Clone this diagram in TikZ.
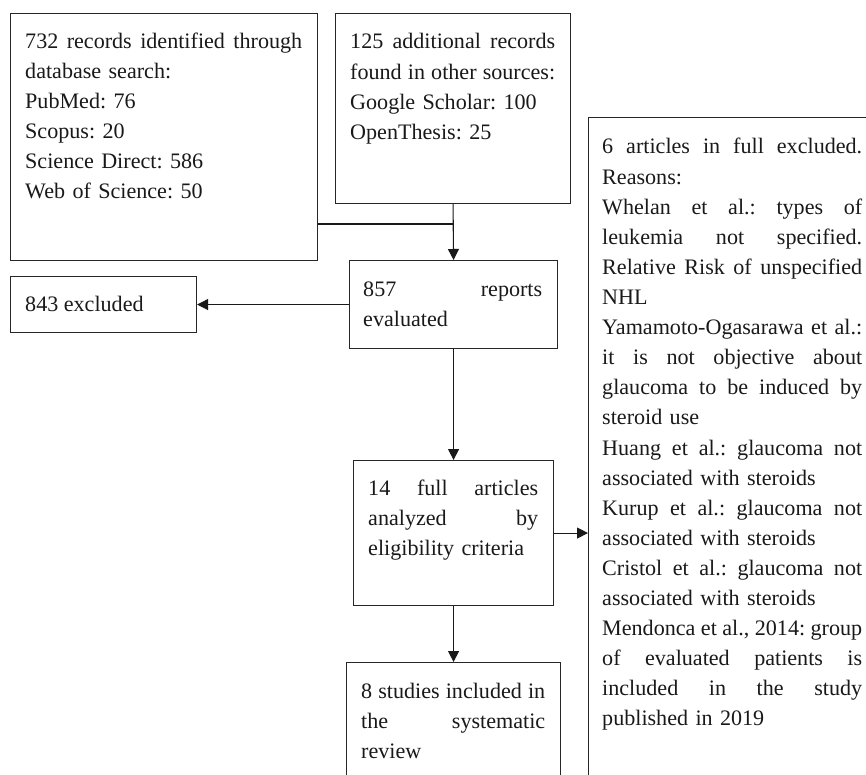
\documentclass[tikz,border=0pt]{standalone}
\usepackage{fontspec}
\setmainfont{Liberation Serif}
\usetikzlibrary{arrows.meta}
\newcommand{\Hf}{\hfill\ignorespaces}
\begin{document}
\begin{tikzpicture}[x=1pt,y=-1pt,
  box/.style={draw=black!85, line width=1.1pt, inner sep=0pt, anchor=north west, rectangle},
  txt/.style={anchor=base west, inner sep=0pt, font=\fontsize{22.1}{30.1}\selectfont\frenchspacing, text=black!90},
  conn/.style={line width=1.1pt, draw=black!90},
  arr/.style={conn, -{Triangle[length=11pt,width=11pt]}}]
\useasboundingbox (0,0) rectangle (866,775);
\clip (0,0) rectangle (866,775);
% boxes
\node[box, minimum width=307pt, minimum height=247pt] (A) at (10,13) {};
\node[box, minimum width=235pt, minimum height=190pt] (B) at (335,13) {};
\node[box, minimum width=208pt, minimum height=88pt] (C) at (349,260) {};
\node[box, minimum width=186pt, minimum height=56pt] (D) at (10,276) {};
\node[box, minimum width=200pt, minimum height=145pt] (E) at (353,460) {};
\node[box, minimum width=214pt, minimum height=140pt] (G) at (346,662) {};
\node[box, minimum width=290pt, minimum height=680pt] (F) at (588,117) {};
% texts
\node[txt, text width=277pt] (tA) at (25,48.5) {732\Hf records\Hf identified\Hf through\\ database search:\\ PubMed: 76\\ Scopus: 20\\ Science Direct: 586\\ Web of Science: 50};
\node[txt, text width=205pt] (tB) at (350,49) {125\Hf additional\Hf records\\ found\Hf in\Hf other\Hf sources:\\ Google Scholar: 100\\ OpenThesis: 25};
\node[txt, text width=179pt] (tC) at (363,296) {857\Hf reports\\ evaluated};
\node[txt] (tD) at (25,311) {843 excluded};
\node[txt, text width=170pt] (tE) at (368,495) {14\Hf full\Hf articles\\ analyzed\Hf by\\ eligibility criteria};
\node[txt, text width=184pt] (tG) at (361,698) {8\Hf studies\Hf included\Hf in\\ the\Hf systematic\\ review};
\node[txt, text width=260pt] (tF) at (602,154) {6\Hf articles\Hf in\Hf full\Hf excluded.\\ Reasons:\\ Whelan\Hf et\Hf al.:\Hf types\Hf of\\ leukemia\Hf not\Hf specified.\\ Relative\Hf Risk\Hf of\Hf unspecified\\ NHL\\ Yamamoto-Ogasarawa\Hf et\Hf al.:\\ it\Hf is\Hf not\Hf objective\Hf about\\ glaucoma\Hf to\Hf be\Hf induced\Hf by\\ steroid use\\ Huang\Hf et\Hf al.:\Hf glaucoma\Hf not\\ associated with steroids\\ Kurup\Hf et\Hf al.:\Hf glaucoma\Hf not\\ associated with steroids\\ Cristol\Hf et\Hf al.:\Hf glaucoma\Hf not\\ associated with steroids\\ Mendonca\Hf et\Hf al.,\Hf 2014:\Hf group\\ of\Hf evaluated\Hf patients\Hf is\\ included\Hf in\Hf the\Hf study\\ published in 2019};
% connectors
\coordinate (j) at (452.5,224);
\draw[conn] (j -| A.east) -- (j);
\draw[arr] (B.south) -- (C.north);
\draw[arr] (C.west) -- (D.east);
\draw[arr] (C.south) -- (E.north);
\draw[arr] (E.east) -- (E.east -| F.west);
\draw[arr] (E.south) -- (G.north);
\end{tikzpicture}
\end{document}
